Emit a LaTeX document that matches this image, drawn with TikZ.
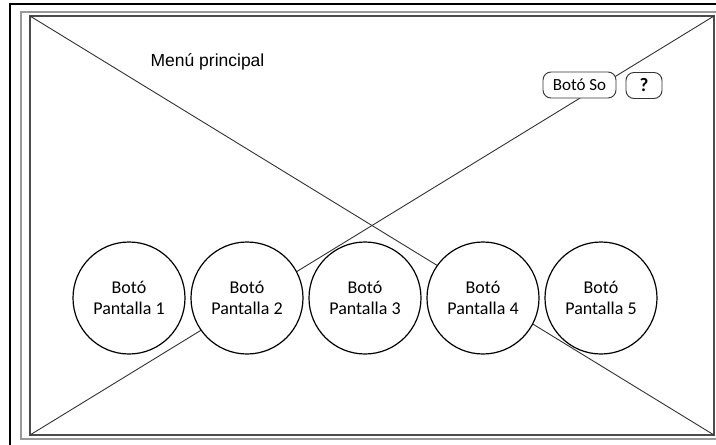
\documentclass[tikz,border=0pt]{standalone}
\usepackage{fontspec}
\setmainfont{Liberation Sans}
\newfontfamily\btnfont{Carlito}
\begin{document}
\begin{tikzpicture}[x=1pt,y=-1pt,
  outerframe/.style={draw=black, line width=1.5pt},
  midframe/.style={draw=black!40, line width=1.5pt},
  innerframe/.style={draw=black!70, line width=1.3pt},
  cross/.style={draw=black!80, line width=0.9pt},
  screenbtn/.style={circle, draw=black, line width=1.2pt, fill=white,
    minimum size=112pt, inner sep=0pt, align=center,
    font=\btnfont\fontsize{18}{21}\selectfont},
  smallbtn/.style={draw=black!80, line width=0.9pt, rounded corners=8pt,
    fill=white, minimum height=26pt, inner sep=0pt,
    font=\btnfont\fontsize{17}{19}\selectfont}
]
\clip (0,0) rectangle (716,445);
\fill[white] (0,0) rectangle (716,445);

% device frames
\draw[outerframe] (10,470) -- (10,4) -- (740,4);
\draw[midframe] (740,12) -- (21,12) -- (21,439) -- (740,439);

% screen area with placeholder cross
\coordinate (tl) at (30,16);
\coordinate (tr) at (714,16);
\coordinate (bl) at (30,435);
\coordinate (br) at (714,435);
\draw[innerframe] (tl) rectangle (br);
\draw[cross] (tl) -- (br);
\draw[cross] (bl) -- (tr);

% title
\node[font=\fontsize{17.5}{20}\selectfont] (title) at (207.5,62) {Menú principal};

% top buttons
\node[smallbtn, minimum width=73pt] (so) at (579.5,85) {Botó So};
\node[smallbtn, minimum width=36pt, font=\btnfont\bfseries\fontsize{19}{20}\selectfont] (help) at (644,85.5) {?};

% screen buttons
\node[screenbtn] (p1) at (129,298) {Botó\\Pantalla 1};
\node[screenbtn] (p2) at (247,298) {Botó\\Pantalla 2};
\node[screenbtn] (p3) at (365,298) {Botó\\Pantalla 3};
\node[screenbtn] (p4) at (483,298) {Botó\\Pantalla 4};
\node[screenbtn] (p5) at (601,298) {Botó\\Pantalla 5};
\end{tikzpicture}
\end{document}
